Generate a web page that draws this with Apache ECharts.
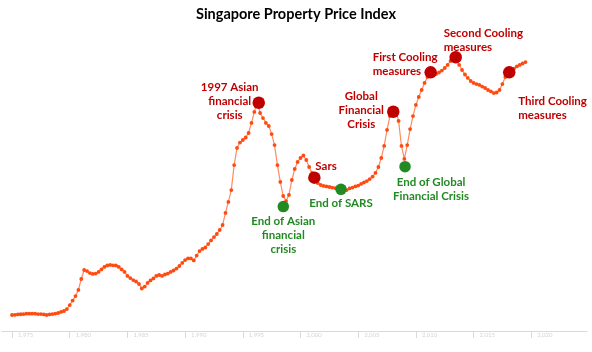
<!DOCTYPE html>
<html>
<head>
<meta charset="utf-8">
<title>Singapore Property Price Index</title>
<script src="https://cdn.jsdelivr.net/npm/echarts@6/dist/echarts.min.js"></script>
<style>
  html, body { margin: 0; padding: 0; background: #fff; }
  #chart { width: 592px; height: 352px; }
</style>
</head>
<body>
<div id="chart"></div>
<script>
// quarterly index, 1975 Q1 onwards
var startYear = 1975;
var ppi = [
  8.9, 9.0, 9.2, 9.3, 9.4, 9.6, 9.6, 9.6, 9.6, 9.4,
  9.4, 9.2, 8.9, 9.2, 9.4, 9.7, 10.0, 10.6, 11.1, 12.2,
  14.4, 16.9, 19.4, 22.8, 28.9, 33.9, 33.3, 32.2, 31.7, 31.9,
  32.8, 34.2, 35.6, 36.4, 36.7, 36.5, 36.4, 35.6, 34.2, 32.8,
  30.6, 29.4, 28.3, 27.5, 26.1, 23.6, 24.7, 26.7, 28.1, 29.2,
  30.6, 31.1, 30.6, 31.4, 31.9, 32.8, 33.6, 34.7, 36.1, 37.8,
  39.4, 40.3, 40.3, 39.2, 41.9, 44.4, 45.6, 46.4, 48.3, 50.3,
  52.2, 53.9, 56.1, 58.9, 65.6, 71.7, 78.3, 92.2, 101.7, 104.7,
  106.1, 107.5, 110.0, 115.6, 121.7, 127.2, 121.1, 118.3, 115.6, 113.9,
  109.4, 103.3, 92.2, 82.8, 75.0, 72.2, 75.6, 83.9, 90.0, 93.9,
  96.1, 97.5, 95.0, 91.1, 87.8, 84.4, 82.2, 81.1, 80.6, 80.3,
  80.0, 79.7, 79.4, 78.9, 78.3, 78.1, 78.3, 79.2, 79.7, 80.3,
  80.8, 81.7, 82.5, 83.3, 84.4, 85.8, 87.8, 91.1, 96.1, 102.8,
  111.7, 119.4, 122.2, 122.8, 116.7, 102.8, 95.6, 103.3, 112.2, 119.4,
  125.6, 130.0, 133.9, 137.8, 141.1, 143.3, 142.5, 142.8, 143.6, 144.7,
  146.1, 147.8, 150.0, 151.7, 150.6, 147.8, 145.0, 142.5, 140.6, 138.9,
  137.8, 137.2, 136.7, 135.8, 135.0, 133.9, 133.1, 132.2, 132.5, 133.9,
  137.2, 141.1, 143.9, 145.0, 145.8, 147.0, 147.8, 148.6, 149.4
];

var tickYears = [1975, 1980, 1985, 1990, 1995, 2000, 2005, 2010, 2015, 2020];

// annotated events
var eventNames = [
  '1997 Asian\nfinancial\ncrisis',
  'End of Asian\nfinancial\ncrisis',
  'Sars',
  'End of SARS',
  'Global\nFinancial\nCrisis',
  'End of Global\nFinancial Crisis',
  'First Cooling\nmeasures',
  'Second Cooling\nmeasures',
  'Third Cooling\nmeasures'
];
var eventYears = [1996.38, 1998.51, 2001.2, 2003.51, 2008.04, 2009.06, 2011.28, 2013.45, 2018.09];
var eventValues = [126.8, 69.1, 85.2, 78.7, 121.8, 91.3, 143.7, 152.1, 143.7];
var eventKinds = ['start', 'end', 'start', 'end', 'start', 'end', 'start', 'start', 'start'];

// where each event label sits relative to its marker
var labelPlace = [
  { offset: [-29, -1], align: 'center' },
  { offset: [0, 29], align: 'center' },
  { offset: [1, -11], align: 'left' },
  { offset: [0, 14], align: 'center' },
  { offset: [-32, -1], align: 'center' },
  { offset: [26, 23], align: 'center' },
  { offset: [-58, -8], align: 'left' },
  { offset: [-12, -17], align: 'left' },
  { offset: [9, 36], align: 'left' }
];

var RED = '#C00000';
var GREEN = '#238A23';
var FONT = 'Lato, "Open Sans", sans-serif';

var lineData = ppi.map(function (v, i) {
  return [startYear + i / 4, v];
});

function eventData(kind) {
  var out = [];
  eventNames.forEach(function (name, i) {
    if (eventKinds[i] !== kind) return;
    var c = kind === 'start' ? RED : GREEN;
    out.push({
      name: name,
      value: [eventYears[i], eventValues[i]],
      label: {
        show: true,
        position: 'inside',
        formatter: name,
        offset: labelPlace[i].offset,
        align: labelPlace[i].align,
        verticalAlign: 'middle',
        color: c,
        fontFamily: FONT,
        fontWeight: 'bold',
        fontSize: 11.5,
        lineHeight: 14
      }
    });
  });
  return out;
}

var chart = echarts.init(document.getElementById('chart'));
chart.setOption({
  animation: false,
  backgroundColor: '#fff',
  title: {
    text: 'Singapore Property Price Index',
    left: 'center',
    top: 7,
    padding: 0,
    textStyle: {
      fontFamily: FONT,
      fontWeight: 'bold',
      fontSize: 14.5,
      color: '#000'
    }
  },
  grid: { left: 2, right: 5, top: 43, bottom: 21 },
  xAxis: {
    type: 'value',
    min: 1974.13,
    max: 2024.83,
    splitLine: { show: false },
    axisLine: { show: true, lineStyle: { color: '#d9d9d9', width: 1 } },
    axisTick: {
      show: true,
      length: 7,
      customValues: tickYears,
      lineStyle: { color: '#d9d9d9' }
    },
    axisLabel: {
      customValues: tickYears,
      align: 'left',
      padding: [0, 0, 0, 6],
      margin: 1,
      fontSize: 6,
      color: '#d4d4d4',
      fontFamily: FONT
    }
  },
  yAxis: {
    type: 'value',
    min: 0,
    max: 160,
    show: false
  },
  series: [
    {
      name: 'PPI',
      type: 'line',
      data: lineData,
      symbol: 'circle',
      symbolSize: 3.8,
      showSymbol: true,
      itemStyle: { color: '#FF4A10' },
      lineStyle: { color: '#FF8A60', width: 1.2 },
      z: 2
    },
    {
      name: 'Crisis',
      type: 'scatter',
      data: eventData('start'),
      symbolSize: 12.5,
      itemStyle: { color: RED, opacity: 1 },
      z: 3
    },
    {
      name: 'Recovery',
      type: 'scatter',
      data: eventData('end'),
      symbolSize: 11.5,
      itemStyle: { color: GREEN, opacity: 1 },
      z: 3
    }
  ]
});
</script>
</body>
</html>
